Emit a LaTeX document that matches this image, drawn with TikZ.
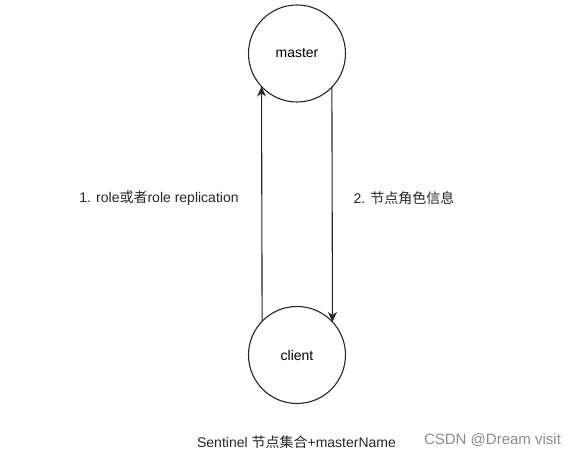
\documentclass[tikz,border=0pt]{standalone}
\usepackage{fontspec}
\setmainfont{Liberation Sans}
\newfontfamily\cjk{Noto Sans CJK SC}
\usetikzlibrary{arrows.meta}
\tikzset{
  every picture/.style={x=1pt,y=1pt},
  nodecircle/.style={circle,draw=black!85,line width=1.1pt,minimum size=97pt,inner sep=0pt,outer sep=0pt,font=\fontsize{14}{16}\selectfont},
  arrowline/.style={draw=black!85,line width=1.1pt,-{Stealth[length=10pt,width=9pt]}},
  lbl/.style={font=\fontsize{14}{16}\selectfont,text=black!85,inner sep=0pt},
  wm/.style={font=\fontsize{15}{17}\selectfont,text=black!45,inner sep=0pt}
}
\begin{document}
\begin{tikzpicture}
\useasboundingbox (0,0) rectangle (573,452);
\node[nodecircle] (master) at (297,398.5) {master};
\node[nodecircle] (client) at (297,97) {client};
\draw[arrowline] (client.136.2) -- (master.223.8);
\draw[arrowline] (master.316.2) -- (client.43.8);
\node[lbl] (l1) at (159,254) {1. role{\cjk 或者}role replication};
\node[lbl] (l2) at (404,254) {2. {\cjk 节点角色信息}};
\node[lbl] (l3) at (296.5,10) {Sentinel {\cjk 节点集合}+masterName};
\node[wm] (wm) at (492.5,12) {CSDN @Dream visit};
\end{tikzpicture}
\end{document}
